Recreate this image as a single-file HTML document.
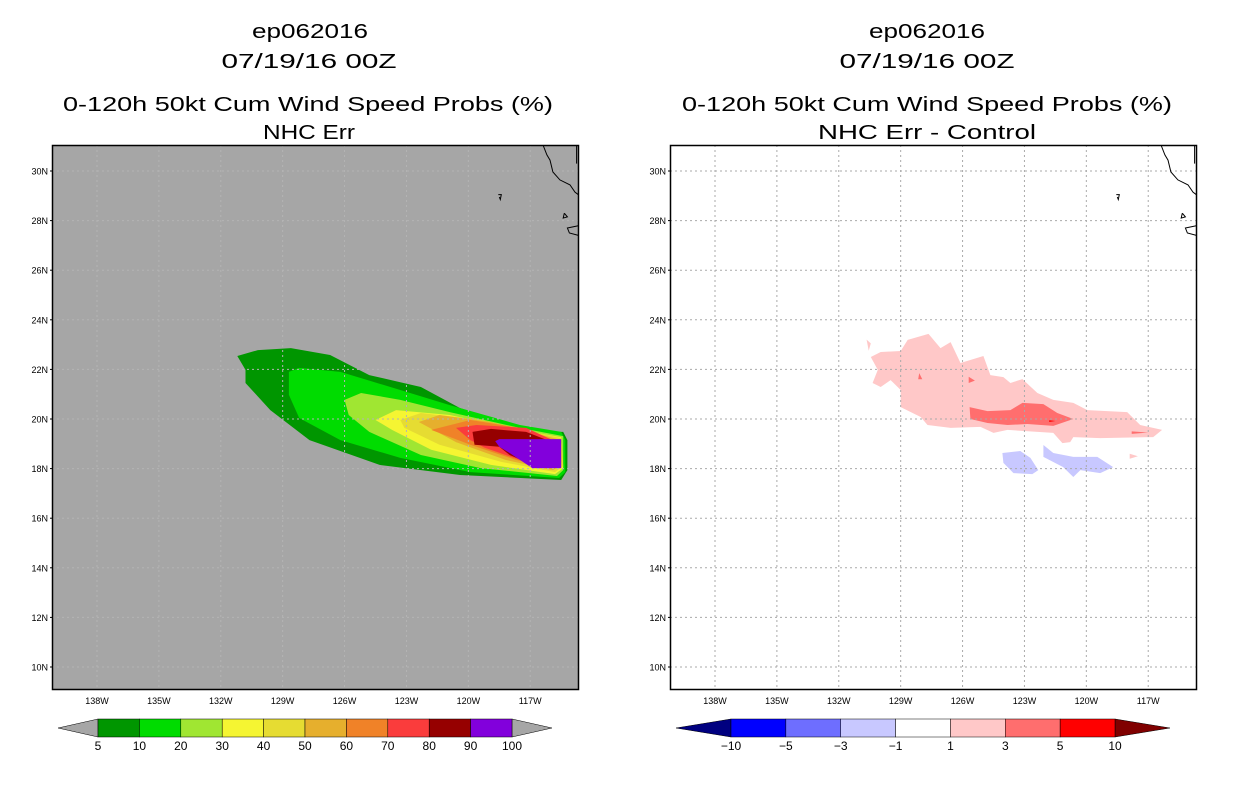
<!DOCTYPE html>
<html><head><meta charset="utf-8"><style>
html,body{margin:0;padding:0;background:#fff;width:1236px;height:800px;overflow:hidden}
svg text{font-family:"Liberation Sans",sans-serif}
</style></head><body>
<svg id="s" width="1236" height="800" viewBox="0 0 1236 800" xmlns="http://www.w3.org/2000/svg">
<g font-size="20" text-anchor="middle" fill="#000">
<text x="310" y="38" textLength="116" lengthAdjust="spacingAndGlyphs">ep062016</text>
<text x="309" y="68" textLength="175" lengthAdjust="spacingAndGlyphs">07/19/16 00Z</text>
<text x="308" y="111" textLength="490" lengthAdjust="spacingAndGlyphs">0-120h 50kt Cum Wind Speed Probs (%)</text>
<text x="309" y="139" textLength="92" lengthAdjust="spacingAndGlyphs">NHC Err</text>
</g>
<g font-size="20" text-anchor="middle" fill="#000">
<text x="927" y="38" textLength="116" lengthAdjust="spacingAndGlyphs">ep062016</text>
<text x="927" y="68" textLength="175" lengthAdjust="spacingAndGlyphs">07/19/16 00Z</text>
<text x="927" y="111" textLength="490" lengthAdjust="spacingAndGlyphs">0-120h 50kt Cum Wind Speed Probs (%)</text>
<text x="927" y="139" textLength="218" lengthAdjust="spacingAndGlyphs">NHC Err - Control</text>
</g>
<g id="L"></g>
<g id="R"></g>
<g id="LC"></g>
<g id="RC"></g>
</svg>
<script>
const latTicks=[30,28,26,24,22,20,18,16,14,12,10];
const lonTicks=[-138,-135,-132,-129,-126,-123,-120,-117];
const probLevels=["5","10","20","30","40","50","60","70","80","90","100"];
const probColors=["#009600","#00dc00","#a0e632","#f5f532","#e6dc32","#e6af2d","#f08228","#fa3c3c","#960000","#8200dc"];
const diffLevels=["\u221210","\u22125","\u22123","\u22121","1","3","5","10"];
const diffColors=["#000080","#0000ff","#6e6eff","#c8c8ff","#ffffff","#ffc8c8","#ff6e6e","#ff0000","#800000"];
const p5=[[-131.2,22.54],[-130.2,22.78],[-128.6,22.86],[-126.7,22.58],[-124.8,21.77],[-122.3,21.29],[-120.4,20.44],[-116.8,19.48],[-115.4,19.48],[-115.2,19.15],[-115.2,17.94],[-115.5,17.54],[-120.4,17.74],[-124.3,18.15],[-127.7,19.15],[-129.6,20.36],[-130.8,21.45],[-130.8,21.98]];
const p10=[[-128.7,21.9],[-128.2,22.06],[-126.2,21.9],[-123.3,21.17],[-120.9,20.56],[-117.5,19.76],[-115.5,19.48],[-115.3,19.15],[-115.3,17.86],[-115.6,17.62],[-119.9,17.86],[-123.3,18.43],[-126.2,19.15],[-128.2,20.04],[-128.7,20.97]];
const p20=[[-126,20.77],[-125.2,21.05],[-123.3,20.77],[-120.9,20.28],[-117.5,19.64],[-115.4,19.31],[-115.4,17.94],[-115.7,17.7],[-119.4,18.02],[-122.3,18.55],[-124.8,19.48],[-125.8,20.16]];
const p30=[[-124.5,19.96],[-123.5,20.36],[-120.9,20.16],[-117.5,19.56],[-115.5,19.27],[-115.4,18.02],[-115.8,17.78],[-118.9,18.15],[-121.8,18.76],[-123.7,19.56]];
const p40=[[-123.3,19.96],[-122.3,20.24],[-119.4,19.96],[-115.5,19.23],[-115.4,18.1],[-115.8,17.86],[-118.4,18.27],[-121.4,18.96],[-123.1,19.64]];
const p50=[[-122.4,19.88],[-121.4,20.16],[-118.9,19.88],[-115.5,19.15],[-115.5,18.15],[-115.9,17.94],[-118.2,18.35],[-120.6,19.07]];
const p60=[[-121.8,19.56],[-119.9,19.96],[-117.5,19.64],[-115.6,19.07],[-115.5,18.27],[-115.9,18.02],[-117.7,18.35],[-119.9,18.96]];
const p70=[[-120.6,19.64],[-119.6,19.76],[-117.2,19.64],[-115.6,19.03],[-115.6,18.35],[-116.0,18.06],[-117.5,18.35],[-119.2,18.84],[-119.9,19.15]];
const p80=[[-119.8,19.48],[-118.9,19.6],[-117.2,19.48],[-115.6,18.96],[-115.6,18.27],[-116.0,18.02],[-117.2,18.27],[-118.0,18.55],[-118.5,18.88],[-119.7,18.96]];
const p90=[[-118.7,19.11],[-118.5,19.19],[-115.5,19.19],[-115.5,18.02],[-116.9,18.02],[-117.5,18.35],[-118.0,18.63],[-118.5,18.88]];
const d1=[[-130.45,22.5],[-129.97,22.7],[-129.0,22.74],[-128.66,23.19],[-127.65,23.43],[-127.07,22.86],[-126.58,23.1],[-126.1,22.26],[-124.99,22.54],[-124.65,21.77],[-124.02,21.69],[-123.68,21.45],[-123.1,21.61],[-122.37,21.05],[-121.6,20.77],[-120.63,20.65],[-119.95,20.36],[-118.02,20.28],[-117.39,19.76],[-116.33,19.56],[-116.76,19.27],[-119.33,19.23],[-120.63,19.27],[-120.78,19.07],[-121.16,19.03],[-121.6,19.44],[-123.82,19.56],[-124.5,19.44],[-125.13,19.68],[-126.58,19.64],[-127.7,19.76],[-128.03,20.08],[-129.0,20.48],[-129.0,21.17],[-129.49,21.57],[-129.97,21.29],[-130.36,21.45],[-130.11,21.98]];
const d1b=[[-130.65,23.2],[-130.45,23.05],[-130.55,22.75]];
const d1c=[[-117.9,18.6],[-117.5,18.5],[-117.9,18.4]];
const d3=[[-125.66,20.48],[-124.79,20.32],[-123.68,20.36],[-123.1,20.65],[-122.08,20.6],[-121.41,20.24],[-120.63,20.0],[-121.6,19.72],[-122.86,19.8],[-123.82,19.76],[-124.79,19.84],[-125.62,20.0]];
const d3b=[[-128.1,21.85],[-127.95,21.6],[-128.15,21.6]];
const d3c=[[-125.7,21.7],[-125.4,21.55],[-125.7,21.45]];
const d3d=[[-117.8,19.5],[-117.0,19.45],[-117.8,19.4]];
const d5=[[-121.8,19.95],[-121.5,19.92],[-121.8,19.88]];
const dm1=[[-124.07,18.63],[-123.2,18.71],[-122.71,18.43],[-122.33,17.94],[-122.62,17.78],[-123.53,17.82],[-124.02,18.23]];
const dm1b=[[-122.08,18.95],[-121.6,18.63],[-120.63,18.47],[-119.47,18.47],[-118.7,18.06],[-119.33,17.82],[-120.29,17.94],[-120.63,17.66],[-121.12,18.06],[-122.08,18.47]];
const coast=[[-116.38,31.05],[-116.19,30.65],[-116.04,30.44],[-115.9,29.96],[-115.56,29.64],[-115.07,29.44],[-114.83,29.15],[-114.64,29.03]];
const coast2=[[-114.75,31.05],[-114.75,30.3]];
const coast3=[[-114.64,27.8],[-115.2,27.7],[-115.1,27.5],[-114.64,27.4]];
const island=[[-118.55,29.05],[-118.4,29.05],[-118.45,28.85],[-118.5,28.95]];
const island2=[[-115.35,28.3],[-115.2,28.15],[-115.4,28.1],[-115.35,28.3]];

const NS="http://www.w3.org/2000/svg";
function mk(p,tag,a){const e=document.createElementNS(NS,tag);for(const k in a)e.setAttribute(k,a[k]);p.appendChild(e);return e;}
function panel(x0){
  const W=527,H=545,top=145;
  const xs=lon=>x0+45+(lon+138)*20.63;
  const ys=lat=>171+(30-lat)*24.8;
  const pts=arr=>arr.map(p=>xs(p[0]).toFixed(1)+","+ys(p[1]).toFixed(1)).join(" ");
  return {W,H,top,xs,ys,pts};
}
function drawMap(id,x0,bg,polys,gridCol){
  const g=document.getElementById(id);
  const P=panel(x0);
  const cp=mk(g,"clipPath",{id:id+"clip"});
  mk(cp,"rect",{x:x0,y:P.top,width:P.W,height:P.H});
  const bgr=mk(g,"rect",{x:x0,y:P.top,width:P.W,height:P.H,fill:bg});
  
  
  const inner=mk(g,"g",{"clip-path":"url(#"+id+"clip)"});
  polys.forEach(pp=>{
    const e=mk(inner,"polygon",{points:P.pts(pp[0]),fill:pp[1]});
    
    
  });
  lonTicks.forEach(l=>{
    const e=mk(inner,"line",{x1:P.xs(l),x2:P.xs(l),y1:P.top,y2:P.top+P.H,stroke:gridCol,"stroke-dasharray":"2,3","stroke-width":1});
    
    
  });
  latTicks.forEach(l=>{
    const e=mk(inner,"line",{x1:x0,x2:x0+P.W,y1:P.ys(l),y2:P.ys(l),stroke:gridCol,"stroke-dasharray":"2,3","stroke-width":1});
    
    
  });
  [coast,coast2,coast3,island,island2].forEach(c=>{
    const e=mk(inner,"polyline",{points:P.pts(c),fill:"none",stroke:"#000","stroke-width":1});
    
    
  });
  const fr=mk(g,"rect",{x:x0+0.5,y:P.top+0.5,width:P.W-1,height:P.H-1,fill:"none",stroke:"#000","stroke-width":1.5});
  
  
  latTicks.forEach(l=>{
    const t=mk(g,"text",{x:x0-4,y:P.ys(l)+3.5,"font-size":9,"text-anchor":"end"});
    t.textContent=l+"N";
    
    
    const k=mk(g,"line",{x1:x0-2,x2:x0,y1:P.ys(l),y2:P.ys(l),stroke:"#000"});
    
    
  });
  lonTicks.forEach(l=>{
    const t=mk(g,"text",{x:P.xs(l),y:704,"font-size":9,"text-anchor":"middle"});
    t.textContent=(-l)+"W";
    
    
  });
}
drawMap("L",52,"#a6a6a6",[[p5,probColors[0],'prob-5'],[p10,probColors[1],'prob-10'],[p20,probColors[2],'prob-20'],[p30,probColors[3],'prob-30'],[p40,probColors[4],'prob-40'],[p50,probColors[5],'prob-50'],[p60,probColors[6],'prob-60'],[p70,probColors[7],'prob-70'],[p80,probColors[8],'prob-80'],[p90,probColors[9],'prob-90']],"#b4b4b4");
drawMap("R",670,"#ffffff",[[d1,diffColors[5],'diff-1'],[d1b,diffColors[5],'diff-1-spot'],[d1c,diffColors[5],'diff-1-spot'],[d3,diffColors[6],'diff-3'],[d3b,diffColors[6],'diff-3-spot'],[d3c,diffColors[6],'diff-3-spot'],[d3d,diffColors[6],'diff-3-spot'],[d5,diffColors[7],'diff-5'],[dm1,diffColors[3],'diff-neg1'],[dm1b,diffColors[3],'diff-neg1']],"#aaaaaa");

function colorbar(id,x0,x1,tri,cols,labels,triColL,triColR){
  const g=document.getElementById(id);
  const y0=719,y1=737,ym=728;
  const n=cols.length;
  const bw=(x1-x0-2*tri)/n;
  let e=mk(g,"polygon",{points:`${x0},${ym} ${x0+tri},${y0} ${x0+tri},${y1}`,fill:triColL,stroke:"#000","stroke-width":0.5});
  
  
  e=mk(g,"polygon",{points:`${x1},${ym} ${x1-tri},${y0} ${x1-tri},${y1}`,fill:triColR,stroke:"#000","stroke-width":0.5});
  
  
  cols.forEach((c,i)=>{
    const r=mk(g,"rect",{x:x0+tri+i*bw,y:y0,width:bw,height:y1-y0,fill:c,stroke:"#000","stroke-width":0.5});
    
    
  });
  labels.forEach((l,i)=>{
    const t=mk(g,"text",{x:x0+tri+i*bw,y:750,"font-size":12,"text-anchor":"middle"});
    t.textContent=l;
    
    
  });
}
colorbar("LC",58,552,40,probColors,probLevels,"#a6a6a6","#a6a6a6");
colorbar("RC",676,1170,55,diffColors.slice(1,8),diffLevels,diffColors[0],diffColors[8]);
</script>
</body></html>
